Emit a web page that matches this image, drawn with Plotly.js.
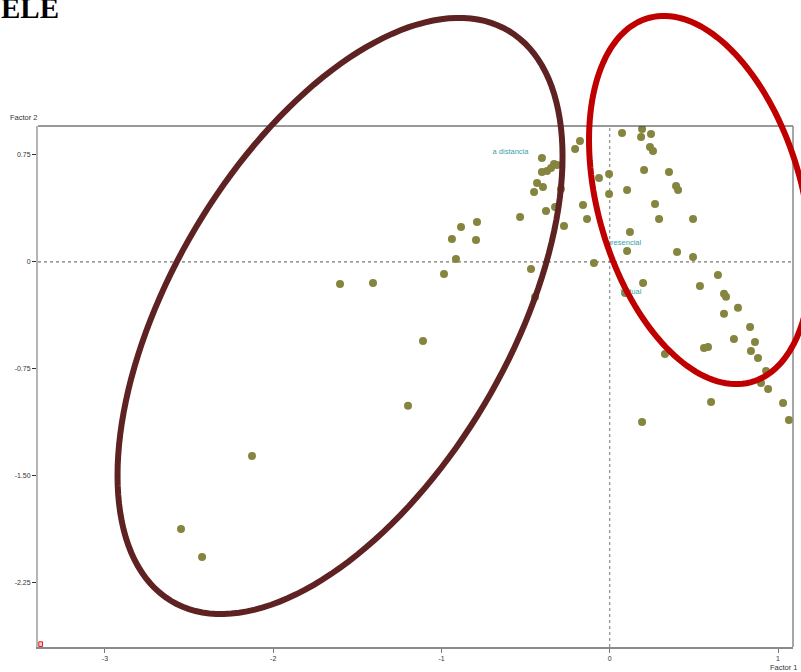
<!DOCTYPE html>
<html>
<head>
<meta charset="utf-8">
<script src="https://cdn.plot.ly/plotly-3.0.1.min.js"></script>
<style>html,body{margin:0;padding:0;background:#fff;}#chart{width:801px;height:672px;}</style>
</head>
<body>
<div id="chart"></div>
<script>
// Factor scores (Factor 1, Factor 2)
const factor1 = [-2.548,-2.423,-2.126,-1.199,-1.110,-1.603,-1.407,-0.985,-0.914,-0.938,
  -0.884,-0.789,-0.795,-0.533,-0.468,-0.444,-0.379,-0.325,-0.272,-0.432,
  -0.450,-0.397,-0.290,-0.403,-0.403,-0.373,-0.349,-0.331,-0.313,-0.206,
  -0.177,-0.159,-0.135,-0.094,-0.064,-0.004,-0.004,0.073,0.103,0.120,
  0.103,0.192,0.186,0.245,0.239,0.257,0.204,0.352,0.394,0.406,
  0.269,0.293,0.495,0.400,0.495,0.643,0.198,0.091,0.536,0.679,
  0.691,0.762,0.679,0.834,0.738,0.863,0.839,0.881,0.560,0.584,
  0.328,0.929,0.899,0.941,0.602,1.030,1.065,0.192];
const factor2 = [-1.872,-2.069,-1.360,-1.009,-0.554,-0.155,-0.148,-0.084,0.020,0.161,
  0.245,0.280,0.154,0.315,-0.050,-0.246,0.357,0.385,0.252,0.553,
  0.490,0.525,0.511,0.729,0.630,0.637,0.659,0.687,0.680,0.792,
  0.848,0.399,0.301,-0.008,0.589,0.617,0.477,0.904,0.504,0.210,
  0.077,0.932,0.876,0.897,0.806,0.778,0.644,0.630,0.532,0.504,
  0.406,0.301,0.301,0.069,0.034,-0.092,-0.148,-0.218,-0.169,-0.224,
  -0.245,-0.322,-0.364,-0.456,-0.540,-0.561,-0.624,-0.673,-0.603,-0.596,
  -0.646,-0.764,-0.849,-0.891,-0.982,-0.989,-1.108,-1.123];

// Category labels (modalities)
const catLabels = ["a distancia", "presencial", "Virtual"];
const catF1 = [-0.59, 0.085, 0.125];
const catF2 = [0.768, 0.134, -0.211];

const xTicks = [-3, -2, -1, 0, 1];
const xTickText = ["-3", "-2", "-1", "0", "1"];
const yTicks = [0.75, 0, -0.75, -1.5, -2.25];
const yTickText = ["0.75", "0", "-0.75", "-1.50", "-2.25"];

const xRange = [-3.398, 1.089];
const yRange = [-2.700, 0.953];

// Ellipse outlines (hand-drawn highlight), in data units
function ellipsePath(cx, cy, A, B, C) {
  const n = 160;
  let d = "";
  for (let i = 0; i <= n; i++) {
    const t = 2 * Math.PI * i / n;
    const x = cx + A * Math.cos(t);
    const y = cy + B * Math.cos(t) + C * Math.sin(t);
    const xp = (x - xRange[0]) / (xRange[1] - xRange[0]);
    const yp = (y - yRange[0]) / (yRange[1] - yRange[0]);
    d += (i === 0 ? "M" : "L") + xp.toFixed(5) + "," + yp.toFixed(5);
  }
  return d + "Z";
}

const narrow = "Liberation Sans Narrow, Arial Narrow, Liberation Sans, Arial, sans-serif";
const tickFont = {family: narrow, size: 7, color: "#333"};

const data = [
  {
    type: "scatter", mode: "markers",
    x: factor1, y: factor2,
    marker: {color: "#85853f", size: 8, line: {width: 0}},
    hoverinfo: "x+y", showlegend: false
  },
  {
    type: "scatter", mode: "text",
    x: catF1, y: catF2, text: catLabels,
    textposition: "middle center",
    textfont: {family: narrow, size: 7.5, color: "#3a9fa8"},
    hoverinfo: "text", showlegend: false
  }
];

const layout = {
  width: 801, height: 672,
  margin: {l: 38, r: 8, t: 126, b: 25, pad: 0},
  paper_bgcolor: "#fff", plot_bgcolor: "#fff",
  showlegend: false,
  xaxis: {
    range: xRange, tickvals: xTicks, ticktext: xTickText,
    showgrid: false, zeroline: false,
    showline: true, linecolor: "#8a8a8a", linewidth: 2,
    ticks: "outside", ticklen: 4, tickcolor: "#777", tickwidth: 1,
    tickfont: tickFont
  },
  yaxis: {
    range: yRange, tickvals: yTicks, ticktext: yTickText,
    showgrid: false, zeroline: false,
    showline: true, linecolor: "#b5b5b5", linewidth: 2,
    ticks: "outside", ticklen: 4, tickcolor: "#333", tickwidth: 1,
    tickfont: tickFont
  },
  shapes: [
    {type: "line", xref: "paper", yref: "y", x0: 0, x1: 1, y0: 0, y1: 0,
     line: {color: "#555", width: 1, dash: "dot"}, layer: "below"},
    {type: "line", xref: "x", yref: "paper", x0: 0, x1: 0, y0: 0, y1: 1,
     line: {color: "#777", width: 1, dash: "dot"}, layer: "below"},
    {type: "line", xref: "paper", yref: "paper", x0: 0, x1: 1, y0: 1, y1: 1,
     line: {color: "#333", width: 1}},
    {type: "line", xref: "paper", yref: "paper", x0: 1, x1: 1, y0: 0, y1: 1,
     line: {color: "#888", width: 1.5}},
    {type: "rect", xref: "paper", yref: "paper", x0: 0.001, x1: 0.006, y0: 0.001, y1: 0.010,
     line: {color: "#e02020", width: 1}, fillcolor: "#f7c8c8"},
    {type: "path", xref: "paper", yref: "paper",
     path: ellipsePath(-1.603, -0.379, 1.3224, 1.1178, 1.7658),
     line: {color: "#5e2222", width: 6}, fillcolor: "rgba(0,0,0,0)", layer: "above"},
    {type: "path", xref: "paper", yref: "paper",
     path: ellipsePath(0.5364, 0.434, 0.6597, -0.4208, 1.2202),
     line: {color: "#c00000", width: 6}, fillcolor: "rgba(0,0,0,0)", layer: "above"}
  ],
  annotations: [
    {text: "<b>ELE</b>", xref: "paper", yref: "paper", x: -0.052, y: 1.226,
     xanchor: "left", yanchor: "middle", showarrow: false,
     font: {family: "Liberation Serif, Times New Roman, serif", size: 29, color: "#000"}},
    {text: "Factor 2", xref: "paper", yref: "paper", x: -0.040, y: 1.017,
     xanchor: "left", yanchor: "middle", showarrow: false,
     font: {family: narrow, size: 7.5, color: "#333"}},
    {text: "Factor 1", xref: "paper", yref: "paper", x: 1.0093, y: -0.040,
     xanchor: "right", yanchor: "middle", showarrow: false,
     font: {family: narrow, size: 7.5, color: "#333"}}
  ]
};

Plotly.newPlot("chart", data, layout, {displayModeBar: false, staticPlot: true});
</script>
</body>
</html>
